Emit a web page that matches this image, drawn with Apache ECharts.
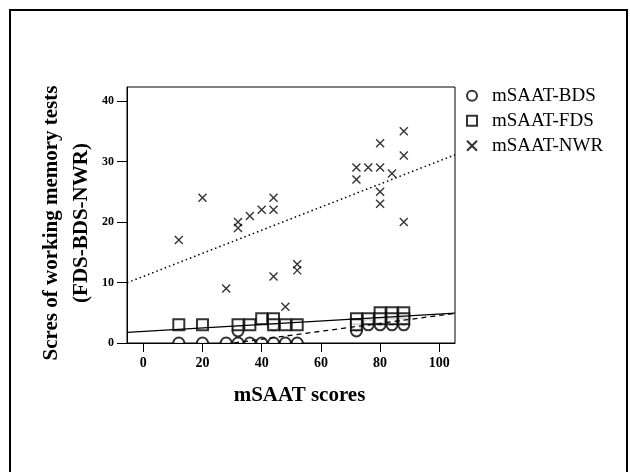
<!DOCTYPE html>
<html><head><meta charset="utf-8">
<script src="https://cdn.jsdelivr.net/npm/echarts@6/dist/echarts.min.js"></script>
<style>html,body{margin:0;padding:0;background:#fff}#c{width:630px;height:472px}</style>
</head><body><div id="c"></div>
<script>
// ---- data ----
const seriesNames = ['mSAAT-BDS', 'mSAAT-FDS', 'mSAAT-NWR'];
const xTicks = [0, 20, 40, 60, 80, 100];
const yTicks = [0, 10, 20, 30, 40];
const xRange = [-5.5, 105.3];
const yRange = [0, 42.3];
const bdsPoints = [[12,0],[20,0],[28,0],[32,0],[32,2],[36,0],[40,0],[44,0],[44,3],[48,0],[52,0],
                   [72,2],[72,3],[76,3],[80,3],[80,4],[84,3],[84,4],[88,3],[88,4]];
const fdsPoints = [[12,3],[20,3],[32,3],[36,3],[40,4],[44,4],[44,3],[48,3],[52,3],
                   [72,4],[72,3],[76,4],[80,5],[80,4],[84,5],[84,4],[88,5],[88,4]];
const nwrPoints = [[12,17],[20,24],[28,9],[32,20],[32,19],[36,21],[40,22],[44,24],[44,22],[44,11],
                   [48,6],[52,13],[52,12],[72,27],[72,29],[76,29],[80,29],[80,33],[80,25],[80,23],
                   [84,28],[88,35],[88,31],[88,20]];
const bdsFit = [[-5.5, -2.35], [105.3, 4.9]];
const fdsFit = [[-5.5, 1.75], [105.3, 4.95]];
const nwrFit = [[-5.5, 9.95], [105.3, 31.1]];
const xTitle = 'mSAAT scores';
const yTitle = 'Scres of working memory tests\n(FDS-BDS-NWR)';

const FONT = 'Liberation Serif';
const chart = echarts.init(document.getElementById('c'), null, {renderer: 'canvas'});
const markStyle = {color: '#000', borderColor: '#000', borderWidth: 1.4};
const option = {
  backgroundColor: '#fff',
  animation: false,
  grid: {left: 127, top: 87, width: 328, height: 256, show: true, borderColor: '#000', borderWidth: 1, backgroundColor: 'transparent'},
  xAxis: {
    type: 'value', min: xRange[0], max: xRange[1], z: 6,
    name: xTitle, nameLocation: 'middle', nameGap: 42,
    nameTextStyle: {fontFamily: FONT, fontWeight: 'bold', fontSize: 21, color: '#000', padding: [0, 0, 0, 17]},
    axisLine: {show: true, onZero: false, lineStyle: {color: '#000', width: 1}},
    axisTick: {show: true, length: 9, customValues: xTicks, lineStyle: {color: '#000', width: 1}},
    axisLabel: {customValues: xTicks, margin: 13, fontFamily: FONT, fontWeight: 'bold', fontSize: 14, color: '#000'},
    splitLine: {show: false}
  },
  yAxis: {
    type: 'value', min: yRange[0], max: yRange[1], z: 6,
    name: yTitle, nameLocation: 'middle', nameGap: 30, nameRotate: 90, nameMoveOverlap: false,
    nameTextStyle: {fontFamily: FONT, fontWeight: 'bold', fontSize: 21, lineHeight: 30, color: '#000', padding: [0, 16, 0, 0]},
    axisLine: {show: true, onZero: false, lineStyle: {color: '#000', width: 1}},
    axisTick: {show: true, length: 10, customValues: yTicks, lineStyle: {color: '#000', width: 1}},
    axisLabel: {customValues: yTicks, margin: 13, fontFamily: FONT, fontWeight: 'bold', fontSize: 12, color: '#000'},
    splitLine: {show: false}
  },
  legend: {
    data: seriesNames, orient: 'vertical', left: 466, top: 86, padding: 0,
    itemWidth: 10, itemHeight: 10, itemGap: 5.5,
    textStyle: {fontFamily: FONT, fontSize: 19, lineHeight: 19.5, color: '#000', padding: [0, 0, 0, 10]}
  },
  graphic: [
    {type: 'rect', z: -1, shape: {x: 10, y: 10, width: 617, height: 480}, style: {fill: 'none', stroke: '#000', lineWidth: 2}},
    {type: 'rect', z: 5, shape: {x: 128, y: 343.5, width: 326, height: 7}, style: {fill: '#fff'}}
  ],
  series: [
    {name: seriesNames[0], type: 'scatter', data: bdsPoints, symbol: 'emptyCircle', symbolSize: 11, itemStyle: markStyle},
    {name: seriesNames[1], type: 'scatter', data: fdsPoints, symbol: 'emptyRect', symbolSize: 11, itemStyle: markStyle},
    {name: seriesNames[2], type: 'scatter', data: nwrPoints, symbol: 'path://M0,0L10,10M10,0L0,10', symbolSize: 8, itemStyle: markStyle},
    {name: 'BDS fit', type: 'line', data: bdsFit, showSymbol: false, clip: true, lineStyle: {color: '#000', width: 1.3, type: [5, 4]}},
    {name: 'FDS fit', type: 'line', data: fdsFit, showSymbol: false, clip: true, lineStyle: {color: '#000', width: 1.3}},
    {name: 'NWR fit', type: 'line', data: nwrFit, showSymbol: false, clip: true, lineStyle: {color: '#000', width: 1.5, type: [1.5, 3]}}
  ]
};
chart.setOption(option);
</script></body></html>
